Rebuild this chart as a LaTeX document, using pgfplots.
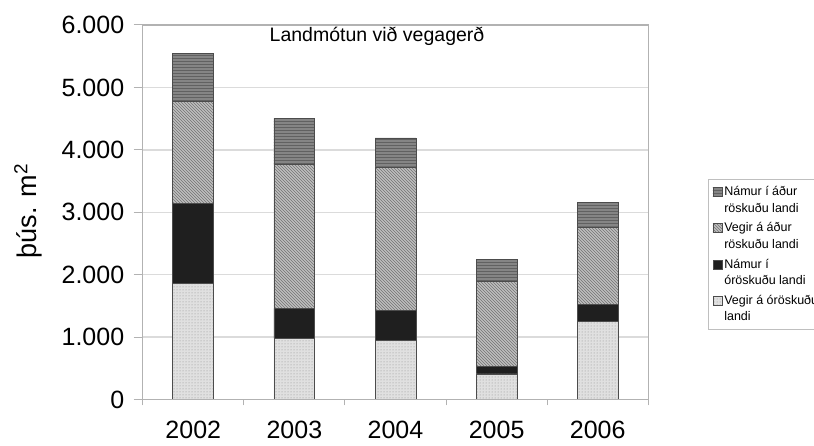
\documentclass[border=0pt]{standalone}
\usepackage{fontspec}
\setmainfont{Liberation Sans}
\usepackage{pgfplots}
\pgfplotsset{compat=1.18}
\usepackage{pgfplotstable}
\usetikzlibrary{patterns}

% thousand m2 per year; columns bottom to top of each stack
\pgfplotstableread{
x  vegiro  namuro  vegira  namura
0  1860    1280    1640    760
1  980     480     2310    730
2  940     490     2295    465
3  410     115     1365    360
4  1250    275     1240    395
}\landmotun

\begin{document}
\begin{tikzpicture}
\path[use as bounding box] (0,0) rectangle (814pt,446pt);
\begin{axis}[
  name=ax,
  at={(142.7pt,46.5pt)}, anchor=south west,
  scale only axis, width=505.6pt, height=374.5pt,
  xmin=-0.5, xmax=4.5, ymin=0, ymax=6000,
  ybar stacked, bar width=0.405,
  axis line style={draw=gray!60, line width=1.2pt},
  tick pos=left,
  ymajorgrids, grid style={draw=gray!28, line width=1.4pt},
  ytick={0,1000,...,6000},
  xtick={0,...,4}, xticklabels={2002,2003,2004,2005,2006},
  minor xtick={-0.5,0.5,...,4.5},
  x tick style={draw=none},
  minor x tick style={draw=gray!60, line width=1pt},
  y tick style={draw=gray!60, line width=1pt},
  tick align=outside, major tick length=9pt, minor tick length=6pt,
  /pgf/number format/.cd, 1000 sep={.}, assume math mode=true, /pgfplots/.cd,
  ticklabel style={font=\fontsize{25}{29}\selectfont},
  yticklabel style={xshift=-6pt},
  xticklabel style={yshift=-9pt},
  every axis plot/.append style={draw=black!70, line width=0.8pt},
  legend style={at={(1.1187,0.588)}, anchor=north west, draw=gray!50,
    font=\fontsize{12.5}{16.5}\selectfont, cells={align=left, anchor=west},
    row sep=5pt, inner xsep=4pt, inner ysep=5pt},
  legend image code/.code={\draw[#1] (0pt,3.5pt) rectangle (9pt,12.5pt);},
  reverse legend,
]
\addplot[fill=black!12, postaction={pattern=dots, pattern color=black!45}] table[x=x, y=vegiro] {\landmotun};
\addlegendentry{Vegir á óröskuðu\\landi}
\addplot[fill=black!88] table[x=x, y=namuro] {\landmotun};
\addlegendentry{Námur í\\óröskuðu landi}
\addplot[fill=black!25, postaction={pattern=north west lines, pattern color=black!55}] table[x=x, y=vegira] {\landmotun};
\addlegendentry{Vegir á áður\\röskuðu landi}
\addplot[fill=black!48, postaction={pattern=horizontal lines, pattern color=black!62}] table[x=x, y=namura] {\landmotun};
\addlegendentry{Námur í áður\\röskuðu landi}
\end{axis}
\draw[gray!60, line width=1.2pt] (ax.south west) rectangle (ax.north east);
\node[font=\fontsize{19.5}{23}\selectfont] at (377pt,410pt) {Landmótun við vegagerð};
\node[rotate=90, font=\fontsize{27}{32}\selectfont] at (28pt,235pt) {þús. m\textsuperscript{2}};
\end{tikzpicture}
\end{document}
